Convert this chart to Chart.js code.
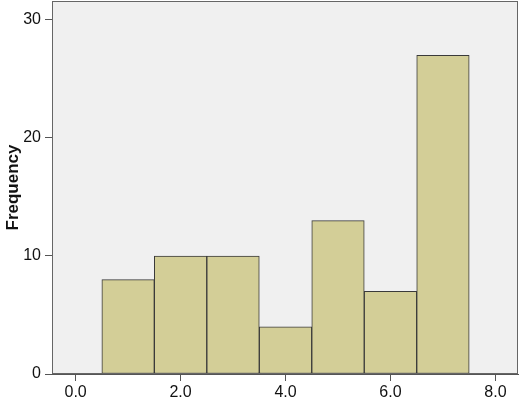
<!DOCTYPE html>
<html>
<head>
<meta charset="utf-8">
<script src="https://cdn.jsdelivr.net/npm/chart.js@4.4.1/dist/chart.umd.min.js"></script>
<style>
  html, body { margin: 0; padding: 0; background: #fff; }
  #wrap { width: 520px; height: 405px; }
</style>
</head>
<body>
<div id="wrap"><canvas id="hist"></canvas></div>
<script>
// bin centres and counts
const binCentres = [1, 2, 3, 4, 5, 6, 7];
const counts = [8, 10, 10, 4, 13, 7, 27];
const xTicks = [0, 2, 4, 6, 8];
const yTicks = [0, 10, 20, 30];

const plotFrame = {
    id: 'plotFrame',
    beforeDraw(chart) {
        const a = chart.chartArea;
        const ctx = chart.ctx;
        ctx.save();
        ctx.fillStyle = '#f0f0f0';
        ctx.fillRect(a.left, a.top, a.right - a.left, a.bottom - a.top);
        ctx.restore();
    },
    afterDraw(chart) {
        const a = chart.chartArea;
        const ctx = chart.ctx;
        ctx.save();
        ctx.strokeStyle = '#666';
        ctx.lineWidth = 1;
        ctx.strokeRect(a.left + 0.5, a.top + 0.5, a.right - a.left - 1, a.bottom - a.top - 1);
        ctx.restore();
    }
};

new Chart(document.getElementById('hist'), {
    type: 'bar',
    data: {
        datasets: [{
            label: 'Frequency',
            data: binCentres.map((c, i) => ({ x: c, y: counts[i] })),
            backgroundColor: '#d3ce97',
            borderColor: '#3a3a3a',
            borderWidth: 1,
            borderSkipped: false,
            barPercentage: 1,
            categoryPercentage: 1
        }]
    },
    plugins: [plotFrame],
    options: {
        responsive: true,
        maintainAspectRatio: false,
        animation: false,
        layout: { padding: { top: 1, right: 2, left: 0, bottom: 0 } },
        plugins: {
            legend: { display: false },
            tooltip: { enabled: false }
        },
        scales: {
            x: {
                type: 'linear',
                offset: false,
                min: -0.45,
                max: 8.43,
                afterBuildTicks: (s) => { s.ticks = xTicks.map(v => ({ value: v })); },
                afterFit: (s) => { s.height = 31; s.paddingLeft = 0; s.paddingRight = 0; },
                grid: { offset: false, drawOnChartArea: false, drawTicks: true, tickLength: 7, tickColor: '#555' },
                border: { display: true, color: '#555', width: 1 },
                ticks: {
                    color: '#111',
                    padding: 2,
                    font: { family: 'Liberation Sans, Arial, sans-serif', size: 16 },
                    callback: (v) => v.toFixed(1)
                }
            },
            y: {
                min: 0,
                max: 31.6,
                afterBuildTicks: (s) => { s.ticks = yTicks.map(v => ({ value: v })); },
                afterFit: (s) => { s.width = 52; s.paddingTop = 0; s.paddingBottom = 0; },
                grid: { drawOnChartArea: false, drawTicks: true, tickLength: 7, tickColor: '#555' },
                border: { display: true, color: '#555', width: 1 },
                title: {
                    display: true,
                    text: 'Frequency',
                    color: '#111',
                    padding: { top: 3, bottom: 0 },
                    font: { family: 'Liberation Sans, Arial, sans-serif', size: 17, weight: 'bold' }
                },
                ticks: {
                    color: '#111',
                    padding: 4,
                    font: { family: 'Liberation Sans, Arial, sans-serif', size: 16 }
                }
            }
        }
    }
});
</script>
</body>
</html>
